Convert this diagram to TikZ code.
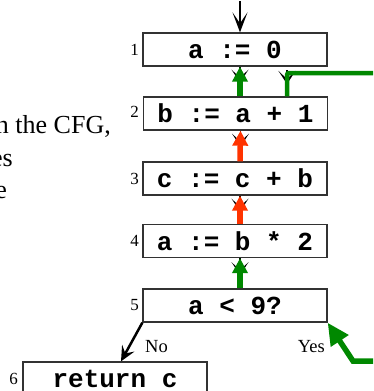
\documentclass[tikz,border=0pt]{standalone}
\usepackage{fontspec}
\setmainfont{Liberation Serif}
\newfontfamily\codefont{Liberation Mono}
\usetikzlibrary{arrows.meta}
\definecolor{dgreen}{RGB}{0,136,0}
\definecolor{dred}{RGB}{255,51,0}
\definecolor{boxline}{RGB}{50,50,50}
\begin{document}
\begin{tikzpicture}[x=1pt,y=-1pt,
  stmt/.style={draw=boxline, line width=1.3pt, minimum width=184pt, minimum height=33pt, inner sep=0pt,
    font=\codefont\bfseries\fontsize{26}{26}\selectfont},
  num/.style={font=\fontsize{17}{17}\selectfont, anchor=east, inner sep=0pt},
  lbl/.style={font=\fontsize{18.5}{18.5}\selectfont, inner sep=0pt},
  side/.style={font=\fontsize{26}{26}\selectfont, inner sep=0pt, anchor=base east},
  cfgtip/.style={draw=black, line width=1.2pt, -{Stealth[length=13pt,width=17pt,inset=8pt]}},
  entry/.style={draw=black, line width=1.6pt, -{Stealth[length=20pt,width=15pt,inset=11pt]}},
  usegreen/.style={draw=dgreen, line width=5.5pt, -{Triangle[length=15pt,width=15pt]}},
  usered/.style={draw=dred, line width=5.5pt, -{Triangle[length=15pt,width=15pt]}},
  loopline/.style={draw=dgreen, line width=4.5pt, rounded corners=2pt},
]
\clip (0,0) rectangle (373,391);

% left text fragments
\node[side] (t1) at (111,133) {n the CFG,};
\node[side] (t2) at (13,166) {es};
\node[side] (t3) at (7,198) {e};

% statement boxes
\node[stmt] (s1) at (235,49.5) {a := 0};
\node[stmt] (s2) at (235.5,113.5) {b := a + 1};
\node[stmt] (s3) at (235,178.5) {c := c + b};
\node[stmt] (s4) at (235,241) {a := b * 2};
\node[stmt] (s5) at (235,305.5) {a < 9?};
\node[stmt] (s6) at (115,378.5) {return c};

% numbers
\node[num] (n1) at (139,49.5) {1};
\node[num] (n2) at (139,112) {2};
\node[num] (n3) at (139,178.5) {3};
\node[num] (n4) at (139,241) {4};
\node[num] (n5) at (139,305.5) {5};
\node[num] (n6) at (18,378.5) {6};

% entry arrow
\coordinate (e0) at (240,1);
\draw[entry] (e0) -- ([xshift=5pt]s1.north);

% black CFG edge heads (partly hidden)
\coordinate (h1) at ([xshift=5pt,yshift=-16pt]s1.south);
\coordinate (h2) at ([xshift=5pt,yshift=-16pt]s2.south);
\coordinate (h3) at ([xshift=5pt,yshift=-16pt]s3.south);
\coordinate (h4) at ([xshift=5pt,yshift=-17pt]s4.south);
\draw[cfgtip] ([xshift=5pt]s1.south) -- (h1);
\draw[cfgtip] ([xshift=5pt]s2.south) -- (h2);
\draw[cfgtip] ([xshift=5pt]s3.south) -- (h3);
\draw[cfgtip] ([xshift=5pt]s4.south) -- (h4);
\coordinate (lt) at (287,70);
\coordinate (lh) at (287,84);
\draw[cfgtip] (lt) -- (lh);

% use-def arrows
\draw[usegreen] ([xshift=4.5pt]s2.north) -- ([xshift=5pt]s1.south);
\draw[usered] ([xshift=5pt]s3.north) -- ([xshift=5pt]s2.south);
\draw[usered] ([xshift=5pt]s4.north) -- ([xshift=5pt]s3.south);
\draw[usegreen] ([xshift=5pt]s5.north) -- ([xshift=5pt]s4.south);

% loop
\coordinate (loopR) at (380,73);
\draw[loopline] ([xshift=51.5pt]s2.north) |- (loopR);
\coordinate (yesR) at (380,361);
\coordinate (yesK) at (353,361);
\draw[usegreen, -{Triangle[length=22pt,width=20pt]}] (yesR) -- (yesK) -- (s5.south east);

% No branch
\draw[black, line width=2.5pt, -{Stealth[length=15pt,width=14pt,inset=6pt]}] (s5.south west) -- ([xshift=6pt]s6.north);
\node[lbl, anchor=base west] (no) at (145,352) {No};
\node[lbl, anchor=base east] (yes) at (325,352) {Yes};
\end{tikzpicture}
\end{document}
